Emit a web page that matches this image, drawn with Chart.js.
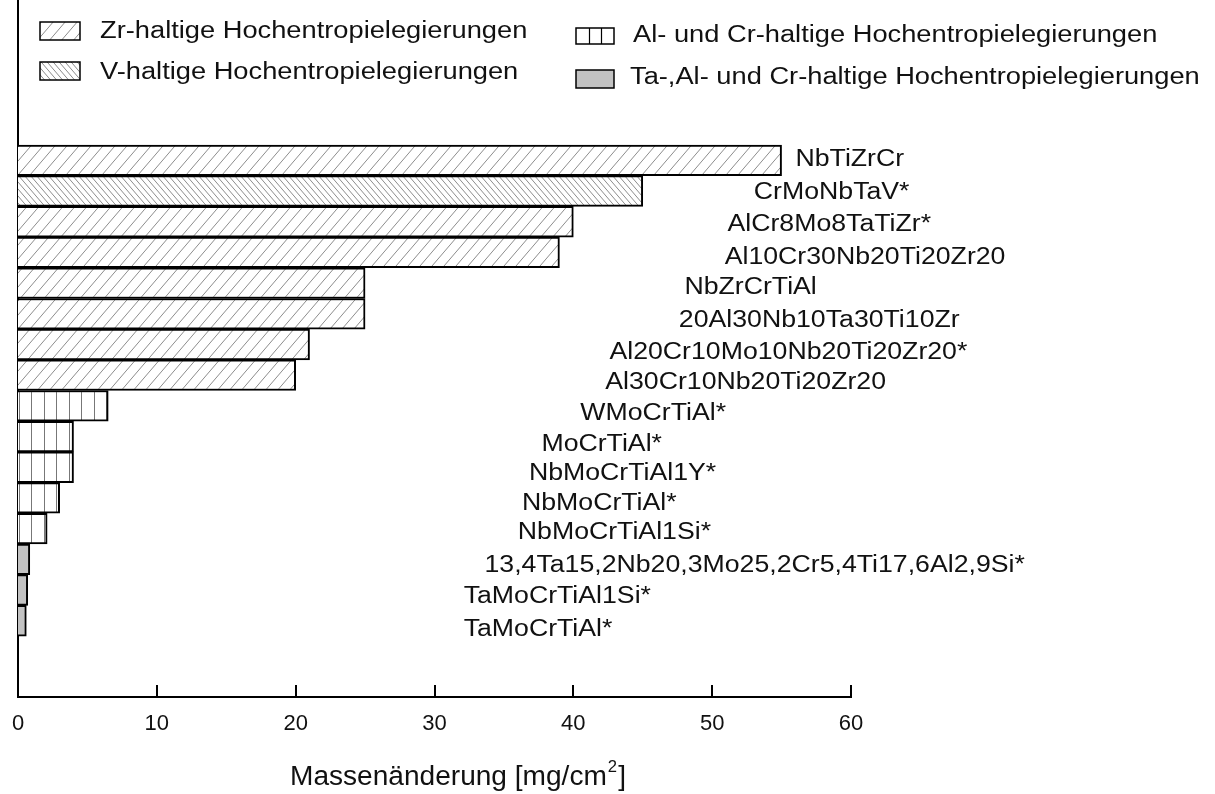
<!DOCTYPE html>
<html>
<head>
<meta charset="utf-8">
<script src="https://cdn.jsdelivr.net/npm/chart.js@4.4.0/dist/chart.umd.min.js"></script>
<style>
html, body { margin: 0; padding: 0; background: #fff; }
canvas { display: block; }
</style>
</head>
<body>
<canvas id="chart" width="1215" height="794"></canvas>
<script>
// Massenänderung der Legierungen, von oben nach unten
const alloys = [
    'NbTiZrCr', 'CrMoNbTaV*', 'AlCr8Mo8TaTiZr*', 'Al10Cr30Nb20Ti20Zr20',
    'NbZrCrTiAl', '20Al30Nb10Ta30Ti10Zr', 'Al20Cr10Mo10Nb20Ti20Zr20*', 'Al30Cr10Nb20Ti20Zr20',
    'WMoCrTiAl*', 'MoCrTiAl*', 'NbMoCrTiAl1Y*', 'NbMoCrTiAl*', 'NbMoCrTiAl1Si*',
    '13,4Ta15,2Nb20,3Mo25,2Cr5,4Ti17,6Al2,9Si*', 'TaMoCrTiAl1Si*', 'TaMoCrTiAl*'
];
const massChange = [55, 45, 40, 39, 25, 25, 21, 20, 6.5, 4, 4, 3, 2.1, 0.85, 0.7, 0.6];
const alloyGroup = ['Zr', 'V', 'Zr', 'Zr', 'Zr', 'Zr', 'Zr', 'Zr', 'AlCr', 'AlCr', 'AlCr', 'AlCr', 'AlCr', 'Ta', 'Ta', 'Ta'];
const groupKeys = ['Zr', 'V', 'AlCr', 'Ta'];
const groupNames = [
    'Zr-haltige Hochentropielegierungen',
    'V-haltige Hochentropielegierungen',
    'Al- und Cr-haltige Hochentropielegierungen',
    'Ta-,Al- und Cr-haltige Hochentropielegierungen'
];
const xTicks = [0, 10, 20, 30, 40, 50, 60];

// where the alloy names sit (x in axis units, y shift in px)
const labelX = [56.0, 53.0, 51.1, 50.9, 48.0, 47.6, 42.6, 42.3, 40.5, 37.7, 36.8, 36.3, 36.0, 33.6, 32.1, 32.1];
const labelDy = [-1, 2, 3, 5, 5, 7, 8, 7, 8, 8, 6, 6, 4, 6, 7, 9];

const FONT = '"Liberation Sans", Arial, sans-serif';
const STRETCH = 1.16;

function makePattern(kind) {
    const c = document.createElement('canvas');
    const g = c.getContext('2d');
    let w, h;
    if (kind === 'Zr') { w = 12; h = 14; }
    else if (kind === 'V') { w = 6; h = 7; }
    else { w = 25; h = 4; }
    c.width = w; c.height = h;
    g.fillStyle = '#fff';
    g.fillRect(0, 0, w, h);
    g.strokeStyle = '#8c8c8c';
    g.lineWidth = 1;
    if (kind === 'AlCr') {
        g.fillStyle = '#777';
        g.fillRect(6, 0, 1, h);
        g.fillRect(19, 0, 1, h);
    } else {
        g.beginPath();
        for (let k = -1; k <= 1; k++) {
            if (kind === 'Zr') { g.moveTo(k * w, h); g.lineTo(k * w + w, 0); }
            else { g.moveTo(k * w, 0); g.lineTo(k * w + w, h); }
        }
        g.stroke();
    }
    return g.createPattern(c, 'repeat');
}

const fills = {
    Zr: makePattern('Zr'),
    V: makePattern('V'),
    AlCr: makePattern('AlCr'),
    Ta: '#c2c2c2'
};

function stretchedText(ctx, text, x, y) {
    ctx.save();
    ctx.translate(x, y);
    ctx.scale(STRETCH, 1);
    ctx.fillText(text, 0, 0);
    ctx.restore();
}

const annotations = {
    id: 'annotations',
    afterDraw(chart) {
        const ctx = chart.ctx;
        const xs = chart.scales.x, ys = chart.scales.y;
        const base = chart.chartArea.bottom;

        // inward tick marks on the x axis
        ctx.save();
        ctx.strokeStyle = '#000';
        ctx.lineWidth = 2;
        xTicks.forEach(v => {
            if (v === 0) return;
            const px = Math.round(xs.getPixelForValue(v));
            ctx.beginPath();
            ctx.moveTo(px, base);
            ctx.lineTo(px, base - 12);
            ctx.stroke();
        });
        ctx.restore();

        // alloy names beside the bars
        ctx.save();
        ctx.fillStyle = '#111';
        ctx.font = '23px ' + FONT;
        ctx.textBaseline = 'middle';
        alloys.forEach((name, i) => {
            stretchedText(ctx, name, xs.getPixelForValue(labelX[i]), ys.getPixelForValue(i) + labelDy[i]);
        });
        ctx.restore();

        // legend
        const boxes = [
            {x: 40, y: 22, w: 40, h: 18, tx: 100, ty: 32},
            {x: 40, y: 62, w: 40, h: 18, tx: 100, ty: 73},
            {x: 576, y: 28, w: 38, h: 16, tx: 633, ty: 36},
            {x: 576, y: 70, w: 38, h: 18, tx: 630, ty: 78}
        ];
        ctx.save();
        ctx.font = '23.5px ' + FONT;
        ctx.textBaseline = 'middle';
        groupKeys.forEach((key, i) => {
            const b = boxes[i];
            if (key === 'AlCr') {
                // three open cells
                ctx.fillStyle = '#fff';
                ctx.fillRect(b.x, b.y, b.w, b.h);
                ctx.strokeStyle = '#000';
                ctx.lineWidth = 1.2;
                ctx.beginPath();
                for (let k = 1; k < 3; k++) {
                    const lx = Math.round(b.x + b.w * k / 3) + 0.5;
                    ctx.moveTo(lx, b.y);
                    ctx.lineTo(lx, b.y + b.h);
                }
                ctx.stroke();
            } else {
                ctx.fillStyle = fills[key];
                ctx.fillRect(b.x, b.y, b.w, b.h);
            }
            ctx.strokeStyle = '#000';
            ctx.lineWidth = 1.5;
            ctx.strokeRect(b.x, b.y, b.w, b.h);
            ctx.fillStyle = '#111';
            stretchedText(ctx, groupNames[i], b.tx, b.ty);
        });
        ctx.restore();

        // axis title with superscript
        ctx.save();
        ctx.fillStyle = '#111';
        ctx.textBaseline = 'alphabetic';
        ctx.font = '27px ' + FONT;
        const main = 'Massenänderung [mg/cm';
        ctx.translate(290, 785);
        ctx.scale(1.04, 1);
        ctx.fillText(main, 0, 0);
        let w = ctx.measureText(main).width;
        ctx.font = '16px ' + FONT;
        ctx.fillText('2', w + 1, -13);
        w += ctx.measureText('2').width + 2;
        ctx.font = '27px ' + FONT;
        ctx.fillText(']', w, 0);
        ctx.restore();
    }
};

new Chart(document.getElementById('chart'), {
    type: 'bar',
    data: {
        datasets: [{
            data: massChange.map((v, i) => ({x: v, y: i})),
            backgroundColor: alloyGroup.map(g => fills[g]),
            borderColor: '#000',
            borderWidth: 2,
            barPercentage: 1,
            categoryPercentage: 1
        }]
    },
    options: {
        indexAxis: 'y',
        responsive: false,
        animation: false,
        devicePixelRatio: 1,
        layout: { padding: { top: 0, right: 364, bottom: 0, left: 0 } },
        plugins: { legend: { display: false }, tooltip: { enabled: false } },
        scales: {
            x: {
                type: 'linear',
                position: 'bottom',
                min: 0,
                max: 60,
                afterBuildTicks: s => { s.ticks = xTicks.map(v => ({value: v})); },
                afterFit: s => { s.height = 97; },
                grid: { display: false },
                border: { color: '#000', width: 2 },
                ticks: { color: '#111', font: { family: FONT, size: 22 }, padding: 6, maxRotation: 0 }
            },
            y: {
                type: 'linear',
                reverse: true,
                offset: false,
                min: -5.225,
                max: 17.486,
                afterFit: s => { s.width = 18; },
                grid: { display: false, offset: false },
                border: { color: '#000', width: 2 },
                ticks: { display: false }
            }
        }
    },
    plugins: [annotations]
});
</script>
</body>
</html>
